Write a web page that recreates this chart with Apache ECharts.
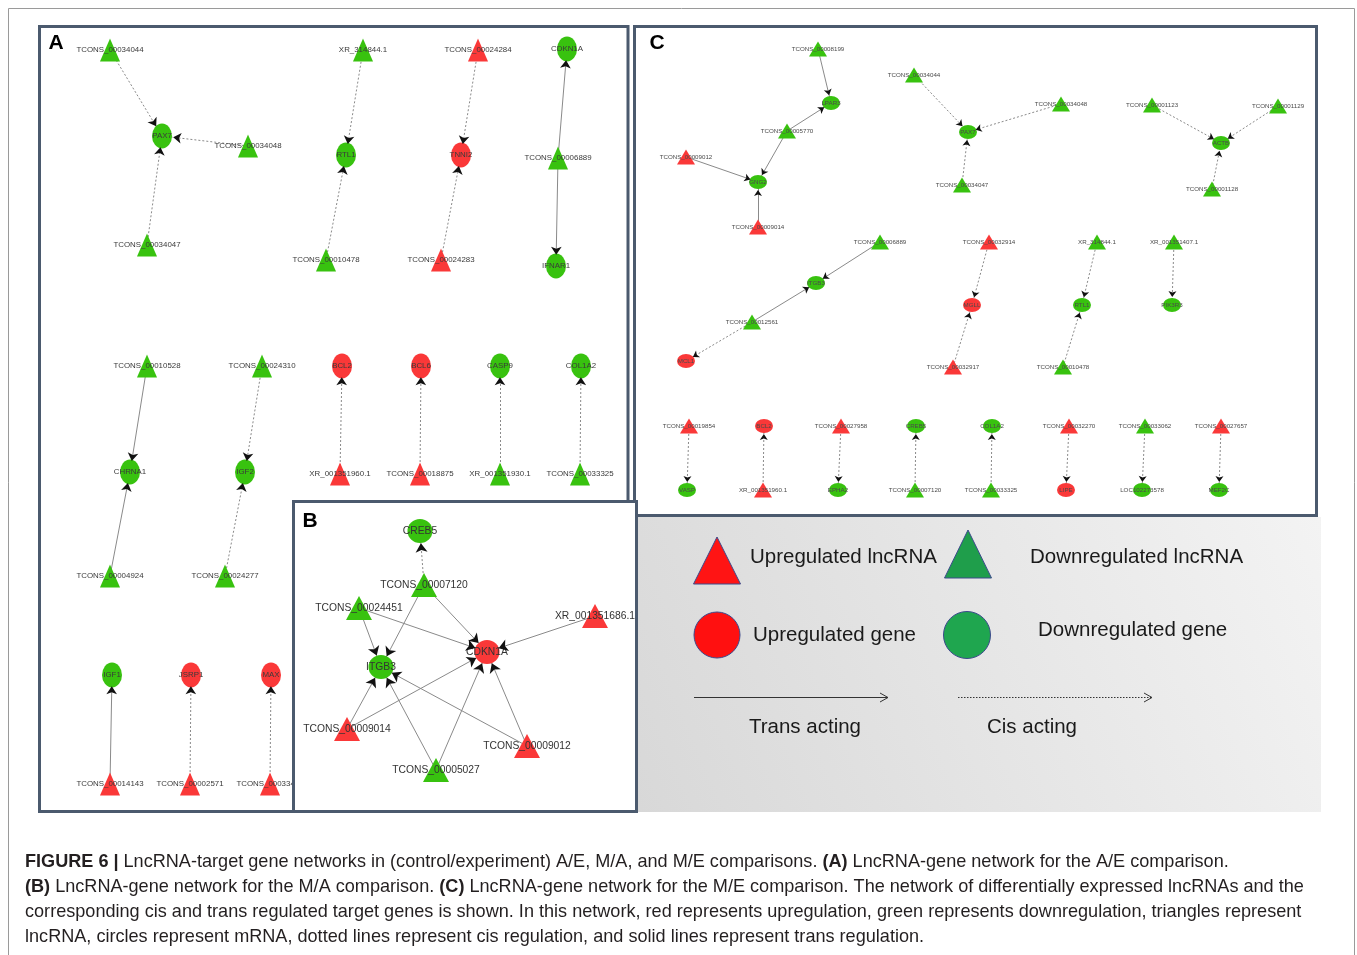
<!DOCTYPE html>
<html>
<head>
<meta charset="utf-8">
<title>LncRNA-target gene networks</title>
<script src="https://cdn.jsdelivr.net/npm/echarts@6/dist/echarts.min.js"></script>
<style>
  html, body { margin: 0; padding: 0; background: #ffffff; }
  #chart { width: 1357px; height: 955px; }
</style>
</head>
<body>
<div id="chart"></div>
<script>
// ---------------------------------------------------------------
// Network data. Nodes: [name, kind, regulation]
//   kind: 'lnc' = lncRNA (triangle), 'gene' = mRNA (circle)
//   regulation: 'up' (red) / 'down' (green)
// Edges: [lncRNA, target gene, 'cis' (dotted) | 'trans' (solid)]
// ---------------------------------------------------------------

// (A) A/E comparison
const nodesA = [
  ['TCONS_00034044', 'lnc', 'down'], ['PAX7', 'gene', 'down'],
  ['TCONS_00034048', 'lnc', 'down'], ['TCONS_00034047', 'lnc', 'down'],
  ['XR_314844.1', 'lnc', 'down'], ['RTL1', 'gene', 'down'], ['TCONS_00010478', 'lnc', 'down'],
  ['TCONS_00024284', 'lnc', 'up'], ['TNNI2', 'gene', 'up'], ['TCONS_00024283', 'lnc', 'up'],
  ['CDKN1A', 'gene', 'down'], ['TCONS_00006889', 'lnc', 'down'], ['IFNAR1', 'gene', 'down'],
  ['TCONS_00010528', 'lnc', 'down'], ['CHRNA1', 'gene', 'down'], ['TCONS_00004924', 'lnc', 'down'],
  ['TCONS_00024310', 'lnc', 'down'], ['IGF2', 'gene', 'down'], ['TCONS_00024277', 'lnc', 'down'],
  ['BCL2', 'gene', 'up'], ['XR_001351960.1', 'lnc', 'up'],
  ['BCL6', 'gene', 'up'], ['TCONS_00018875', 'lnc', 'up'],
  ['CASP9', 'gene', 'down'], ['XR_001351930.1', 'lnc', 'down'],
  ['COL1A2', 'gene', 'down'], ['TCONS_00033325', 'lnc', 'down'],
  ['IGF1', 'gene', 'down'], ['TCONS_00014143', 'lnc', 'up'],
  ['JSRP1', 'gene', 'up'], ['TCONS_00002571', 'lnc', 'up'],
  ['MAX', 'gene', 'up'], ['TCONS_00033424', 'lnc', 'up']
];
const edgesA = [
  ['TCONS_00034044', 'PAX7', 'cis'], ['TCONS_00034048', 'PAX7', 'cis'], ['TCONS_00034047', 'PAX7', 'cis'],
  ['XR_314844.1', 'RTL1', 'cis'], ['TCONS_00010478', 'RTL1', 'cis'],
  ['TCONS_00024284', 'TNNI2', 'cis'], ['TCONS_00024283', 'TNNI2', 'cis'],
  ['TCONS_00006889', 'CDKN1A', 'trans'], ['TCONS_00006889', 'IFNAR1', 'trans'],
  ['TCONS_00010528', 'CHRNA1', 'trans'], ['TCONS_00004924', 'CHRNA1', 'trans'],
  ['TCONS_00024310', 'IGF2', 'cis'], ['TCONS_00024277', 'IGF2', 'cis'],
  ['XR_001351960.1', 'BCL2', 'cis'], ['TCONS_00018875', 'BCL6', 'cis'],
  ['XR_001351930.1', 'CASP9', 'cis'], ['TCONS_00033325', 'COL1A2', 'cis'],
  ['TCONS_00014143', 'IGF1', 'trans'], ['TCONS_00002571', 'JSRP1', 'cis'], ['TCONS_00033424', 'MAX', 'cis']
];

// (B) M/A comparison
const nodesB = [
  ['CREB5', 'gene', 'down'], ['TCONS_00007120', 'lnc', 'down'], ['TCONS_00024451', 'lnc', 'down'],
  ['XR_001351686.1', 'lnc', 'up'], ['CDKN1A', 'gene', 'up'], ['ITGB3', 'gene', 'down'],
  ['TCONS_00009014', 'lnc', 'up'], ['TCONS_00005027', 'lnc', 'down'], ['TCONS_00009012', 'lnc', 'up']
];
const edgesB = [
  ['TCONS_00007120', 'CREB5', 'cis'],
  ['TCONS_00007120', 'ITGB3', 'trans'], ['TCONS_00007120', 'CDKN1A', 'trans'],
  ['TCONS_00024451', 'ITGB3', 'trans'], ['TCONS_00024451', 'CDKN1A', 'trans'],
  ['XR_001351686.1', 'CDKN1A', 'trans'],
  ['TCONS_00009014', 'ITGB3', 'trans'], ['TCONS_00009014', 'CDKN1A', 'trans'],
  ['TCONS_00005027', 'ITGB3', 'trans'], ['TCONS_00005027', 'CDKN1A', 'trans'],
  ['TCONS_00009012', 'ITGB3', 'trans'], ['TCONS_00009012', 'CDKN1A', 'trans']
];

// (C) M/E comparison
const nodesC = [
  ['TCONS_00008199', 'lnc', 'down'], ['LPAR3', 'gene', 'down'], ['TCONS_00005770', 'lnc', 'down'],
  ['TCONS_00009012', 'lnc', 'up'], ['GNG2', 'gene', 'down'], ['TCONS_00009014', 'lnc', 'up'],
  ['TCONS_00034044', 'lnc', 'down'], ['PAX7', 'gene', 'down'], ['TCONS_00034047', 'lnc', 'down'],
  ['TCONS_00034048', 'lnc', 'down'],
  ['TCONS_00001123', 'lnc', 'down'], ['TCONS_00001129', 'lnc', 'down'], ['ACTB', 'gene', 'down'],
  ['TCONS_00001128', 'lnc', 'down'],
  ['TCONS_00006889', 'lnc', 'down'], ['ITGB3', 'gene', 'down'], ['TCONS_00012561', 'lnc', 'down'],
  ['MCL1', 'gene', 'up'],
  ['TCONS_00032914', 'lnc', 'up'], ['MGLL', 'gene', 'up'], ['TCONS_00032917', 'lnc', 'up'],
  ['XR_314844.1', 'lnc', 'down'], ['RTL1', 'gene', 'down'], ['TCONS_00010478', 'lnc', 'down'],
  ['XR_001351407.1', 'lnc', 'down'], ['PIK3R3', 'gene', 'down'],
  ['TCONS_00019854', 'lnc', 'up'], ['VASP', 'gene', 'down'],
  ['BCL2', 'gene', 'up'], ['XR_001351960.1', 'lnc', 'up'],
  ['TCONS_00027958', 'lnc', 'up'], ['EPHA2', 'gene', 'down'],
  ['CREB5', 'gene', 'down'], ['TCONS_00007120', 'lnc', 'down'],
  ['COL1A2', 'gene', 'down'], ['TCONS_00033325', 'lnc', 'down'],
  ['TCONS_00032270', 'lnc', 'up'], ['LIPE', 'gene', 'up'],
  ['TCONS_00033062', 'lnc', 'down'], ['LOC102273578', 'gene', 'down'],
  ['TCONS_00027657', 'lnc', 'up'], ['MEF2C', 'gene', 'down']
];
const edgesC = [
  ['TCONS_00008199', 'LPAR3', 'trans'], ['TCONS_00005770', 'LPAR3', 'trans'],
  ['TCONS_00005770', 'GNG2', 'trans'], ['TCONS_00009012', 'GNG2', 'trans'], ['TCONS_00009014', 'GNG2', 'trans'],
  ['TCONS_00034044', 'PAX7', 'cis'], ['TCONS_00034048', 'PAX7', 'cis'], ['TCONS_00034047', 'PAX7', 'cis'],
  ['TCONS_00001123', 'ACTB', 'cis'], ['TCONS_00001129', 'ACTB', 'cis'], ['TCONS_00001128', 'ACTB', 'cis'],
  ['TCONS_00006889', 'ITGB3', 'trans'], ['TCONS_00012561', 'ITGB3', 'trans'], ['TCONS_00012561', 'MCL1', 'cis'],
  ['TCONS_00032914', 'MGLL', 'cis'], ['TCONS_00032917', 'MGLL', 'cis'],
  ['XR_314844.1', 'RTL1', 'cis'], ['TCONS_00010478', 'RTL1', 'cis'],
  ['XR_001351407.1', 'PIK3R3', 'cis'],
  ['TCONS_00019854', 'VASP', 'cis'], ['XR_001351960.1', 'BCL2', 'cis'],
  ['TCONS_00027958', 'EPHA2', 'cis'], ['TCONS_00007120', 'CREB5', 'cis'],
  ['TCONS_00033325', 'COL1A2', 'cis'], ['TCONS_00032270', 'LIPE', 'cis'],
  ['TCONS_00033062', 'LOC102273578', 'cis'], ['TCONS_00027657', 'MEF2C', 'cis']
];

// ---------------------------------------------------------------
// Node layout (page units; the hidden axes span the page).
// ---------------------------------------------------------------
const layoutA = {
  'TCONS_00034044': [110, 50], 'PAX7': [162, 136], 'TCONS_00034048': [248, 146], 'TCONS_00034047': [147, 245],
  'XR_314844.1': [363, 50], 'RTL1': [346, 155], 'TCONS_00010478': [326, 260],
  'TCONS_00024284': [478, 50], 'TNNI2': [461, 155], 'TCONS_00024283': [441, 260],
  'CDKN1A': [567, 49], 'TCONS_00006889': [558, 158], 'IFNAR1': [556, 266],
  'TCONS_00010528': [147, 366], 'CHRNA1': [130, 472], 'TCONS_00004924': [110, 576],
  'TCONS_00024310': [262, 366], 'IGF2': [245, 472], 'TCONS_00024277': [225, 576],
  'BCL2': [342, 366], 'XR_001351960.1': [340, 474],
  'BCL6': [421, 366], 'TCONS_00018875': [420, 474],
  'CASP9': [500, 366], 'XR_001351930.1': [500, 474],
  'COL1A2': [581, 366], 'TCONS_00033325': [580, 474],
  'IGF1': [112, 675], 'TCONS_00014143': [110, 784],
  'JSRP1': [191, 675], 'TCONS_00002571': [190, 784],
  'MAX': [271, 675], 'TCONS_00033424': [270, 784]
};
const layoutB = {
  'CREB5': [420, 531], 'TCONS_00007120': [424, 585], 'TCONS_00024451': [359, 608],
  'XR_001351686.1': [595, 616], 'CDKN1A': [487, 652], 'ITGB3': [381, 667],
  'TCONS_00009014': [347, 729], 'TCONS_00005027': [436, 770], 'TCONS_00009012': [527, 746]
};
const layoutC = {
  'TCONS_00008199': [818, 49], 'LPAR3': [831, 103], 'TCONS_00005770': [787, 131],
  'TCONS_00009012': [686, 157], 'GNG2': [758, 182], 'TCONS_00009014': [758, 227],
  'TCONS_00034044': [914, 75], 'PAX7': [968, 132], 'TCONS_00034047': [962, 185], 'TCONS_00034048': [1061, 104],
  'TCONS_00001123': [1152, 105], 'TCONS_00001129': [1278, 106], 'ACTB': [1221, 143], 'TCONS_00001128': [1212, 189],
  'TCONS_00006889': [880, 242], 'ITGB3': [816, 283], 'TCONS_00012561': [752, 322], 'MCL1': [686, 361],
  'TCONS_00032914': [989, 242], 'MGLL': [972, 305], 'TCONS_00032917': [953, 367],
  'XR_314844.1': [1097, 242], 'RTL1': [1082, 305], 'TCONS_00010478': [1063, 367],
  'XR_001351407.1': [1174, 242], 'PIK3R3': [1172, 305],
  'TCONS_00019854': [689, 426], 'VASP': [687, 490],
  'BCL2': [764, 426], 'XR_001351960.1': [763, 490],
  'TCONS_00027958': [841, 426], 'EPHA2': [838, 490],
  'CREB5': [916, 426], 'TCONS_00007120': [915, 490],
  'COL1A2': [992, 426], 'TCONS_00033325': [991, 490],
  'TCONS_00032270': [1069, 426], 'LIPE': [1066, 490],
  'TCONS_00033062': [1145, 426], 'LOC102273578': [1142, 490],
  'TCONS_00027657': [1221, 426], 'MEF2C': [1219, 490]
};

// Caption lines
const captionLines = [
  '{b|FIGURE 6 |} LncRNA-target gene networks in (control/experiment) A/E, M/A, and M/E comparisons. {b|(A)} LncRNA-gene network for the A/E comparison.',
  '{b|(B)} LncRNA-gene network for the M/A comparison. {b|(C)} LncRNA-gene network for the M/E comparison. The network of differentially expressed lncRNAs and the',
  'corresponding cis and trans regulated target genes is shown. In this network, red represents upregulation, green represents downregulation, triangles represent',
  'lncRNA, circles represent mRNA, dotted lines represent cis regulation, and solid lines represent trans regulation.'
];

// ---------------------------------------------------------------
// Styling
// ---------------------------------------------------------------
const GREEN = '#38c20f';
const RED = '#fa3838';
const EDGE = '#8a8a8a';
const FRAME = '#4b5a6e';
const SANS = "'Liberation Sans', Arial, Helvetica, sans-serif";

const styleA = { lnc: [20, 23], gene: [20, 25], font: 7.9, family: SANS, color: '#3a3a3a', arrow: 8, z: 2 };
const styleB = { lnc: [26, 24], gene: [25, 24], font: 10.3, family: SANS, color: '#333333', arrow: 9, z: 6 };
const styleC = { lnc: [18, 15], gene: [18, 14], font: 6.2, family: SANS, color: '#4a4a4a', arrow: 6, z: 2 };

function nodeData(nodes, layout, st, visible) {
  return nodes.map(function (n) {
    const name = n[0], kind = n[1], reg = n[2];
    return {
      name: name,
      value: layout[name],
      symbol: kind === 'lnc' ? 'triangle' : 'circle',
      symbolSize: kind === 'lnc' ? st.lnc : st.gene,
      itemStyle: { color: reg === 'up' ? RED : GREEN, opacity: visible ? 1 : 0 }
    };
  });
}

// Lines (gray) and the nodes with labels
function networkSeries(nodes, layout, edges, st) {
  return {
    type: 'graph',
    layout: 'none',
    coordinateSystem: 'cartesian2d',
    z: st.z,
    silent: true,
    emphasis: { disabled: true },
    edgeSymbol: ['none', 'none'],
    label: { show: true, position: 'inside', color: st.color, fontSize: st.font, fontFamily: st.family },
    data: nodeData(nodes, layout, st, true),
    links: edges.map(function (e) {
      return {
        source: e[0], target: e[1],
        lineStyle: { color: EDGE, width: 1, opacity: 1, curveness: 0, type: e[2] === 'cis' ? [2, 2] : 'solid' }
      };
    })
  };
}

// Black arrowheads at the target genes
function arrowSeries(nodes, layout, edges, st) {
  return {
    type: 'graph',
    layout: 'none',
    coordinateSystem: 'cartesian2d',
    z: st.z + 1,
    silent: true,
    emphasis: { disabled: true },
    edgeSymbol: ['none', 'arrow'],
    edgeSymbolSize: st.arrow,
    label: { show: false },
    data: nodeData(nodes, layout, st, false),
    links: edges.map(function (e) {
      return { source: e[0], target: e[1], lineStyle: { color: '#111111', width: 0, opacity: 1, curveness: 0 } };
    })
  };
}

// ---------------------------------------------------------------
// Frames, panel letters, legend and caption
// ---------------------------------------------------------------
const LEGEND_FONT = '20.5px ' + SANS;
const graphics = [
  { type: 'rect', z: 0, shape: { x: 8.5, y: 8.5, width: 1346, height: 960 },
    style: { fill: '#ffffff', stroke: '#9a9a9a', lineWidth: 1 } },
  // panel A
  { type: 'rect', z: 0, shape: { x: 39.5, y: 26.5, width: 588.5, height: 785 },
    style: { fill: '#ffffff', stroke: FRAME, lineWidth: 3 } },
  // legend background
  { type: 'rect', z: 0, shape: { x: 638, y: 517, width: 683, height: 295 },
    style: { fill: new echarts.graphic.LinearGradient(0, 1, 1, 0, [
      { offset: 0, color: '#d8d8d8' }, { offset: 1, color: '#f3f3f3' }]) } },
  // panel C
  { type: 'rect', z: 0, shape: { x: 634.5, y: 26.5, width: 682, height: 489 },
    style: { fill: '#ffffff', stroke: FRAME, lineWidth: 3 } },
  // panel B (drawn over panel A's lower right corner)
  { type: 'rect', z: 5, shape: { x: 293.5, y: 501.5, width: 343, height: 310 },
    style: { fill: '#ffffff', stroke: FRAME, lineWidth: 3 } },

  { type: 'text', z: 10, x: 56, y: 43, style: { text: 'A', font: 'bold 21px ' + SANS, fill: '#000', align: 'center', verticalAlign: 'middle' } },
  { type: 'text', z: 10, x: 310, y: 521, style: { text: 'B', font: 'bold 21px ' + SANS, fill: '#000', align: 'center', verticalAlign: 'middle' } },
  { type: 'text', z: 10, x: 657, y: 43, style: { text: 'C', font: 'bold 21px ' + SANS, fill: '#000', align: 'center', verticalAlign: 'middle' } },

  // legend symbols
  { type: 'polygon', z: 1, shape: { points: [[717, 537], [740.5, 584], [693.5, 584]] },
    style: { fill: '#ff1414', stroke: '#3c4a8c', lineWidth: 1 } },
  { type: 'polygon', z: 1, shape: { points: [[968, 530], [991.5, 578], [944.5, 578]] },
    style: { fill: '#1f9e4b', stroke: '#3c4a8c', lineWidth: 1 } },
  { type: 'circle', z: 1, shape: { cx: 717, cy: 635, r: 23 },
    style: { fill: '#ff1010', stroke: '#3c4a8c', lineWidth: 1 } },
  { type: 'circle', z: 1, shape: { cx: 967, cy: 635, r: 23.5 },
    style: { fill: '#1fa64f', stroke: '#3c4a8c', lineWidth: 1 } },
  { type: 'line', z: 1, shape: { x1: 694, y1: 697.5, x2: 888, y2: 697.5 }, style: { stroke: '#333', lineWidth: 1 } },
  { type: 'polyline', z: 1, shape: { points: [[880, 693], [888, 697.5], [880, 702]] }, style: { stroke: '#333', lineWidth: 1, fill: null } },
  { type: 'line', z: 1, shape: { x1: 958, y1: 697.5, x2: 1152, y2: 697.5 }, style: { stroke: '#333', lineWidth: 1, lineDash: [1.5, 1.5] } },
  { type: 'polyline', z: 1, shape: { points: [[1144, 693], [1152, 697.5], [1144, 702]] }, style: { stroke: '#333', lineWidth: 1, fill: null } },

  { type: 'text', z: 1, x: 750, y: 557, style: { text: 'Upregulated lncRNA', font: LEGEND_FONT, fill: '#1a1a1a', verticalAlign: 'middle' } },
  { type: 'text', z: 1, x: 1030, y: 557, style: { text: 'Downregulated lncRNA', font: LEGEND_FONT, fill: '#1a1a1a', verticalAlign: 'middle' } },
  { type: 'text', z: 1, x: 753, y: 635, style: { text: 'Upregulated gene', font: LEGEND_FONT, fill: '#1a1a1a', verticalAlign: 'middle' } },
  { type: 'text', z: 1, x: 1038, y: 630, style: { text: 'Downregulated gene', font: LEGEND_FONT, fill: '#1a1a1a', verticalAlign: 'middle' } },
  { type: 'text', z: 1, x: 805, y: 727, style: { text: 'Trans acting', font: LEGEND_FONT, fill: '#1a1a1a', align: 'center', verticalAlign: 'middle' } },
  { type: 'text', z: 1, x: 1032, y: 727, style: { text: 'Cis acting', font: LEGEND_FONT, fill: '#1a1a1a', align: 'center', verticalAlign: 'middle' } }
];

const CAPTION_SIZE = 18.1;
const captionY = [862, 887, 912, 937];
captionLines.forEach(function (line, i) {
  graphics.push({
    type: 'text', z: 10, x: 25, y: captionY[i],
    style: {
      text: line, fill: '#231f20', fontSize: CAPTION_SIZE, fontFamily: SANS, verticalAlign: 'middle',
      rich: { b: { fontWeight: 'bold', fontSize: CAPTION_SIZE, fontFamily: SANS, fill: '#231f20' } }
    }
  });
});

// ---------------------------------------------------------------
const chart = echarts.init(document.getElementById('chart'), null, { renderer: 'canvas' });
chart.setOption({
  animation: false,
  backgroundColor: '#ffffff',
  grid: { left: 0, right: 0, top: 0, bottom: 0 },
  xAxis: { type: 'value', min: 0, max: 1357, show: false },
  yAxis: { type: 'value', min: 0, max: 955, inverse: true, show: false },
  graphic: { elements: graphics },
  series: [
    networkSeries(nodesA, layoutA, edgesA, styleA),
    arrowSeries(nodesA, layoutA, edgesA, styleA),
    networkSeries(nodesC, layoutC, edgesC, styleC),
    arrowSeries(nodesC, layoutC, edgesC, styleC),
    networkSeries(nodesB, layoutB, edgesB, styleB),
    arrowSeries(nodesB, layoutB, edgesB, styleB)
  ]
});
</script>
</body>
</html>
